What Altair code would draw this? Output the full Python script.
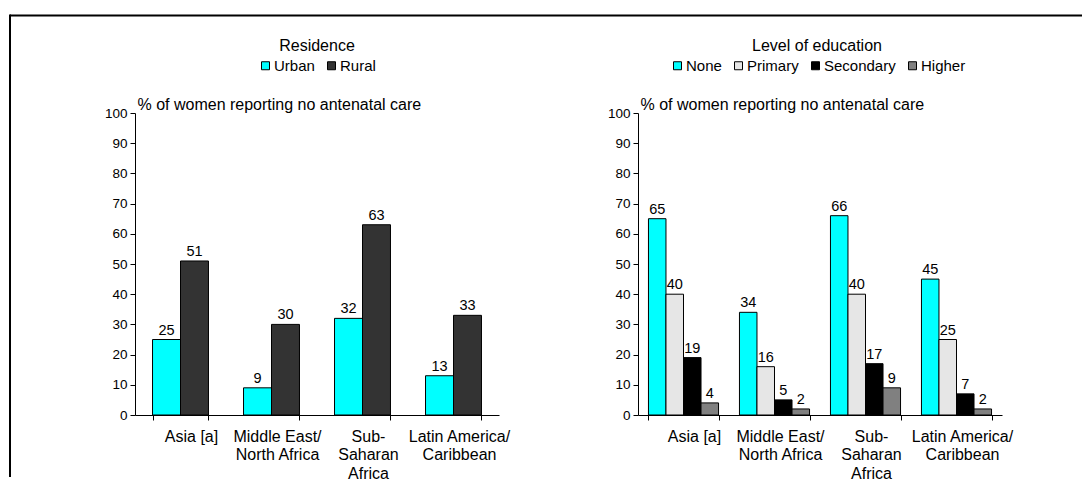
import altair as alt
import pandas as pd

# ---- data ----
regions = ["Asia [a]", "Middle East/|North Africa", "Sub-|Saharan|Africa", "Latin America/|Caribbean"]

res_groups = ["Urban", "Rural"]
urban = [25, 9, 32, 13]
rural = [51, 30, 63, 33]

edu_groups = ["None", "Primary", "Secondary", "Higher"]
edu_none = [65, 34, 66, 45]
edu_primary = [40, 16, 40, 25]
edu_secondary = [19, 5, 17, 7]
edu_higher = [4, 2, 9, 2]

y_ticks = list(range(0, 101, 10))
y_title = "% of women reporting no antenatal care"

res_colors = ["#00FFFF", "#333333"]
edu_colors = ["#00FFFF", "#E6E6E6", "#000000", "#808080"]


def long_df(groups, series):
    rows = []
    for g, vals in zip(groups, series):
        for r, v in zip(regions, vals):
            rows.append({"region": r, "group": g, "value": v})
    return pd.DataFrame(rows)


res_df = long_df(res_groups, [urban, rural])
edu_df = long_df(edu_groups, [edu_none, edu_primary, edu_secondary, edu_higher])

W, H = 364, 302


def panel(df, groups, colors, pad_inner, legend_x, legend_title, title_x, border=False):
    base = alt.Chart(df)
    x = alt.X(
        "region:N",
        sort=regions,
        scale=alt.Scale(paddingInner=pad_inner, paddingOuter=pad_inner / 2),
        axis=alt.Axis(
            title=None,
            labelAngle=0,
            tickBand="extent",
            labelExpr="split(datum.label, '|')",
            labelFontSize=16,
            labelLineHeight=18.5,
            labelPadding=8,
            labelOffset=alt.condition("datum.value == 'Asia [a]'", alt.value(10.5), alt.value(5.5)),
            tickSize=5,
            labelLimit=300,
        ),
    )
    xo = alt.XOffset("group:N", sort=groups, scale=alt.Scale(paddingInner=0, paddingOuter=0))
    y = alt.Y(
        "value:Q",
        scale=alt.Scale(domain=[0, 100], nice=False),
        axis=alt.Axis(
            values=y_ticks,
            grid=False,
            title=y_title,
            titleAngle=0,
            titleAlign="left",
            titleBaseline="alphabetic",
            titleFontSize=16,
            titleX=2,
            titleY=-4,
            tickSize=5,
            labelFontSize=13.5,
            labelPadding=3,
        ),
    )
    bars = base.mark_bar(stroke="black", strokeWidth=1).encode(
        x=x,
        xOffset=xo,
        y=y,
        color=alt.Color(
            "group:N",
            scale=alt.Scale(domain=groups, range=colors),
            legend=alt.Legend(
                orient="none",
                legendX=legend_x,
                legendY=-55,
                direction="horizontal",
                title=None,
                symbolType="square",
                symbolSize=64,
                symbolStrokeColor="black",
                symbolStrokeWidth=1,
                labelFontSize=15,
                labelOffset=1,
                columnPadding=9,
                padding=0,
                labelColor="black",
            ),
        ),
    )
    labels = base.mark_text(baseline="alphabetic", dy=-5, fontSize=14.5, color="black").encode(
        x=x, xOffset=xo, y=y, text="value:Q"
    )
    title = alt.Chart(pd.DataFrame({"t": [legend_title]})).mark_text(
        fontSize=16, color="black", baseline="alphabetic", align="center"
    ).encode(text="t:N", x=alt.value(title_x), y=alt.value(-61.7))
    layers = [bars, labels, title]
    if border:
        b = alt.Chart(pd.DataFrame({"k": [0]})).mark_rule(color="black", strokeWidth=2)
        layers.append(b.encode(x=alt.value(-125), x2=alt.value(947), y=alt.value(-97.5)))
        layers.append(b.encode(x=alt.value(-125), y=alt.value(-98.5), y2=alt.value(364)))
    return alt.layer(*layers).properties(width=W, height=H)


left = panel(res_df, res_groups, res_colors, 0.385, 123, "Residence", 182, border=True)
right = panel(edu_df, edu_groups, edu_colors, 0.23, 32, "Level of education", 179)

chart = (
    alt.hconcat(left, right, spacing=139, bounds="flush")
    .resolve_scale(color="independent", xOffset="independent")
    .properties(padding={"left": 1, "top": 5, "right": 0, "bottom": 0})
    .configure(font="Liberation Sans")
    .configure_axis(
        domainColor="black",
        tickColor="black",
        labelColor="black",
        titleColor="black",
        titleFontWeight="normal",
        labelFont="Liberation Sans",
        titleFont="Liberation Sans",
    )
    .configure_legend(labelFont="Liberation Sans")
    .configure_view(stroke=None)
)

chart.save("out.html", embed_options={"renderer": "svg", "actions": False})
